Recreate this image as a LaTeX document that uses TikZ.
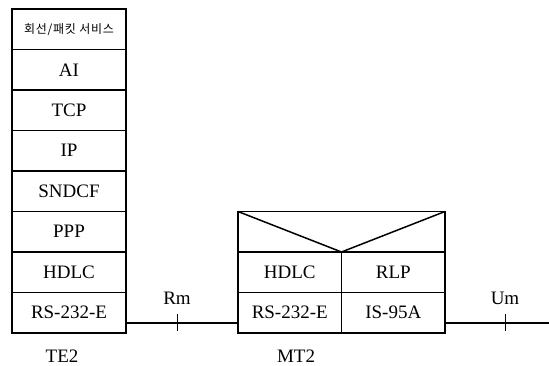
\documentclass[tikz,border=0pt]{standalone}
\usepackage{fontspec}
\setmainfont{Liberation Serif}
\newfontfamily\korfont[LetterSpace=6]{Noto Sans CJK KR}

\begin{document}
\begin{tikzpicture}[x=1pt,y=1pt,line width=1.5pt,font=\fontsize{19}{21}\selectfont,
  layer/.style={draw,minimum width=114pt,minimum height=40.5pt,inner sep=0pt,outer sep=0pt},
  half/.style={draw,minimum width=103.5pt,minimum height=40.5pt,inner sep=0pt,outer sep=0pt}]
\useasboundingbox (0,0) rectangle (549,366);
% TE2 stack
\node[layer,font=\korfont\fontsize{12}{13}\selectfont] (te1) at (69,336.75) {회선/패킷 서비스};
\foreach \i/\lab in {2/AI,3/TCP,4/IP,5/SNDCF,6/PPP,7/HDLC,8/RS-232-E}{
  \node[layer] (te\i) at (69,377.25-40.5*\i) {\lab};
}
% MT2 stack
\node[draw,minimum width=207pt,minimum height=40.5pt,inner sep=0pt,outer sep=0pt] (mtop) at (341.5,134.25) {};
\draw (mtop.north west) -- (mtop.south) -- (mtop.north east);
\node[half] (mhdlc) at (289.75,93.75) {HDLC};
\node[half] (mrlp) at (393.25,93.75) {RLP};
\node[half] (mrs) at (289.75,53.25) {RS-232-E};
\node[half] (mis) at (393.25,53.25) {IS-95A};
% links and reference points
\coordinate (rm) at (177,43);
\coordinate (um) at (505,43);
\coordinate (umend) at (549,43);
\draw (rm -| te8.east) -- (rm -| mrs.west);
\draw (um -| mis.east) -- (umend);
\foreach \t in {rm,um}{\draw[line width=1pt] ([yshift=-8pt]\t) -- ([yshift=9pt]\t);}
\node (rmlab) at (177,68) {Rm};
\node (umlab) at (505,68) {Um};
\node (te2lab) at (62,10) {TE2};
\node (mt2lab) at (296,10) {MT2};
\end{tikzpicture}
\end{document}
